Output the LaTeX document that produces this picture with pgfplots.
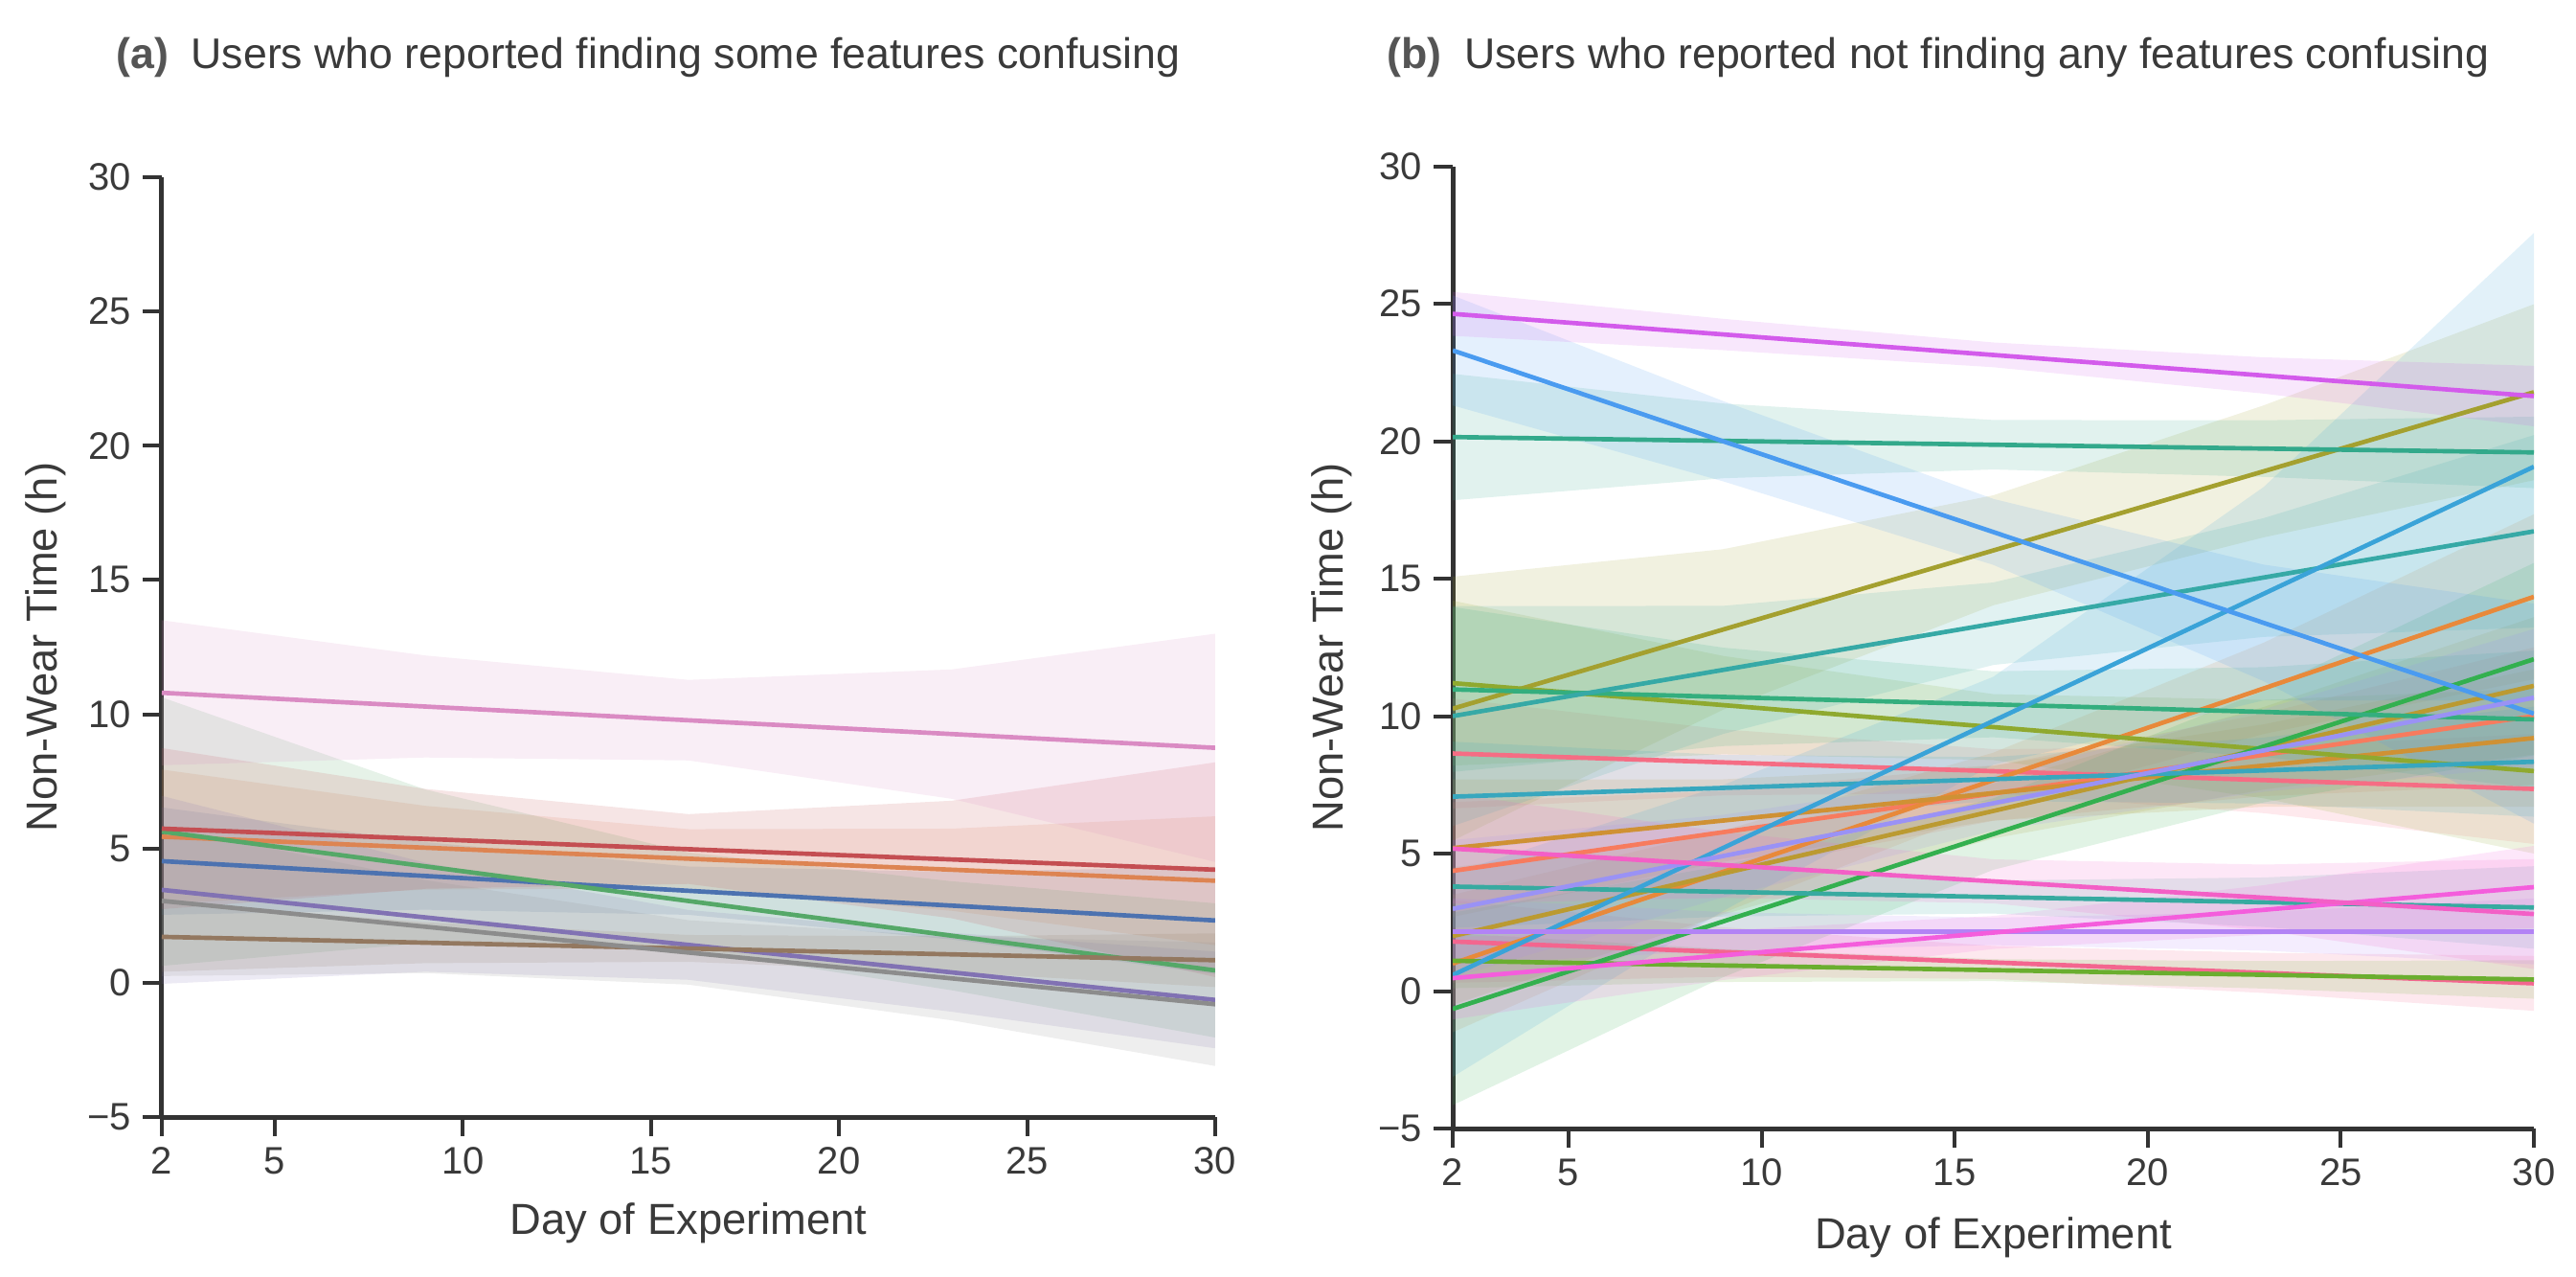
\documentclass[border=0pt]{standalone}
\usepackage{fontspec}
\setmainfont{Liberation Sans}
\usepackage{pgfplots}
\pgfplotsset{compat=1.18}

\definecolor{axisgray}{HTML}{333333}
\definecolor{textgray}{HTML}{3A3A3A}
\definecolor{tagray}{HTML}{555555}
% panel (a): seaborn "deep"
\definecolor{dblue}{HTML}{4C72B0}
\definecolor{dorange}{HTML}{DD8452}
\definecolor{dgreen}{HTML}{55A868}
\definecolor{dred}{HTML}{C44E52}
\definecolor{dpurple}{HTML}{8172B3}
\definecolor{dbrown}{HTML}{937860}
\definecolor{dpink}{HTML}{DA8BC3}
\definecolor{dgray}{HTML}{8C8C8C}
% panel (b): husl-like hues
\definecolor{h01}{HTML}{D35BEB}
\definecolor{h02}{HTML}{4A9BF0}
\definecolor{h03}{HTML}{33A98B}
\definecolor{h04}{HTML}{A4A02F}
\definecolor{h05}{HTML}{3AA3D8}
\definecolor{h06}{HTML}{36A9A6}
\definecolor{h07}{HTML}{E8893A}
\definecolor{h08}{HTML}{33B04F}
\definecolor{h09}{HTML}{8FA92F}
\definecolor{h10}{HTML}{34AE7E}
\definecolor{h11}{HTML}{F56D84}
\definecolor{h12}{HTML}{38A7BE}
\definecolor{h13}{HTML}{CF9134}
\definecolor{h14}{HTML}{F77B5E}
\definecolor{h15}{HTML}{BB9A31}
\definecolor{h16}{HTML}{9A92F5}
\definecolor{h17}{HTML}{F35FC6}
\definecolor{h18}{HTML}{37AAA0}
\definecolor{h19}{HTML}{B283F5}
\definecolor{h20}{HTML}{F45DDC}
\definecolor{h21}{HTML}{F3668F}
\definecolor{h22}{HTML}{6AAE2F}

\pgfplotsset{
  panel/.style={
    scale only axis,
    anchor=south west,
    xmin=2, xmax=30, ymin=-5, ymax=30,
    axis lines*=left,
    axis line style={line width=1.5pt, color=axisgray, -},
    tick align=outside,
    major tick length=6pt,
    tick style={line width=1.2pt, color=axisgray},
    xtick={2,5,10,15,20,25,30},
    xticklabels={2,5,10,15,20,25,30},
    ytick={-5,0,5,10,15,20,25,30},
    yticklabels={−5,0,5,10,15,20,25,30},
    tick label style={font=\fontsize{12}{14}\selectfont, color=textgray},
    xlabel={Day of Experiment},
    ylabel={Non-Wear Time (h)},
  },
  band/.style={draw=none, fill=#1, fill opacity=0.15, forget plot},
  fit/.style={color=#1, line width=1.4pt, forget plot},
}

\begin{document}
\begin{tikzpicture}
\useasboundingbox (0,0) rectangle (807pt,399.6pt);

% ---------------- (a) ----------------
\begin{axis}[panel, at={(50.7pt,49.8pt)}, width=330pt, height=294.3pt,
  ylabel style={at={(axis description cs:-0.110,0.5)}, rotate=0, anchor=center,
    font=\fontsize{13.6}{16}\selectfont, text=textgray},
  xlabel style={at={(axis description cs:0.5,-0.113)}, anchor=center,
    font=\fontsize{13.6}{16}\selectfont, text=textgray}]
% confidence bands (drawn below the lines)
\addplot[band=dblue] coordinates {(2,6.53)(9,5.24)(16,4.33)(23,4.13)(30,4.32)(30,0.32)(23,1.61)(16,2.53)(9,2.72)(2,2.53)};
\addplot[band=dorange] coordinates {(2,7.94)(9,6.59)(16,5.72)(23,5.74)(30,6.2)(30,1.4)(23,2.68)(16,3.52)(9,3.47)(2,2.94)};
\addplot[band=dgreen] coordinates {(2,10.63)(9,7.2)(16,4.85)(23,3.78)(30,2.96)(30,-2.04)(23,-0.28)(16,1.25)(9,1.48)(2,0.63)};
\addplot[band=dred] coordinates {(2,8.74)(9,7.22)(16,6.28)(23,6.78)(30,8.21)(30,0.21)(23,2.4)(16,3.68)(9,3.5)(2,2.74)};
\addplot[band=dpurple] coordinates {(2,6.96)(9,4.47)(16,2.71)(23,1.86)(30,1.16)(30,-2.44)(23,-1.08)(16,0.11)(9,0.41)(2,-0.04)};
\addplot[band=dbrown] coordinates {(2,3.01)(9,2.25)(16,1.78)(23,1.73)(30,1.84)(30,-0.16)(23,0.39)(16,0.78)(9,0.73)(2,0.41)};
\addplot[band=dpink] coordinates {(2,13.5)(9,12.19)(16,11.28)(23,11.67)(30,13.0)(30,4.5)(23,6.85)(16,8.28)(9,8.39)(2,8.1)};
\addplot[band=dgray] coordinates {(2,5.85)(9,3.82)(16,2.33)(23,1.72)(30,1.5)(30,-3.1)(23,-1.4)(16,-0.07)(9,0.36)(2,0.25)};
% regression lines
\addplot[fit=dblue] coordinates {(2,4.53) (30,2.32)};
\addplot[fit=dorange] coordinates {(2,5.44) (30,3.80)};
\addplot[fit=dgreen] coordinates {(2,5.63) (30,0.46)};
\addplot[fit=dred] coordinates {(2,5.74) (30,4.21)};
\addplot[fit=dpurple] coordinates {(2,3.46) (30,-0.64)};
\addplot[fit=dbrown] coordinates {(2,1.71) (30,0.84)};
\addplot[fit=dpink] coordinates {(2,10.8) (30,8.75)};
\addplot[fit=dgray] coordinates {(2,3.05) (30,-0.80)};
\end{axis}

% ---------------- (b) ----------------
\begin{axis}[panel, at={(455.1pt,46.2pt)}, width=338.7pt, height=301.35pt,
  ylabel style={at={(axis description cs:-0.1116,0.5)}, rotate=0, anchor=center,
    font=\fontsize{13.6}{16}\selectfont, text=textgray},
  xlabel style={at={(axis description cs:0.5,-0.113)}, anchor=center,
    font=\fontsize{13.6}{16}\selectfont, text=textgray}]
% confidence bands
\addplot[band=h21] coordinates {(2,3.3)(9,2.32)(16,1.64)(23,1.39)(30,1.28)(30,-0.72)(23,-0.07)(16,0.44)(9,0.52)(2,0.3)};
\addplot[band=h11] coordinates {(2,10.64)(9,9.52)(16,8.8)(23,8.87)(30,9.35)(30,5.35)(23,6.47)(16,7.2)(9,7.12)(2,6.64)};
\addplot[band=h14] coordinates {(2,6.87)(9,7.28)(16,8.19)(23,10.09)(30,12.5)(30,7.5)(23,7.09)(16,6.19)(9,4.28)(2,1.87)};
\addplot[band=h07] coordinates {(2,3.5)(9,5.84)(16,8.67)(23,12.67)(30,17.34)(30,11.34)(23,9.35)(16,6.67)(9,2.84)(2,-1.5)};
\addplot[band=h13] coordinates {(2,7.7)(9,7.7)(16,8.2)(23,9.7)(30,11.7)(30,6.7)(23,6.7)(16,6.2)(9,4.7)(2,2.7)};
\addplot[band=h15] coordinates {(2,4.5)(9,5.78)(16,7.55)(23,10.33)(30,13.6)(30,8.6)(23,7.33)(16,5.55)(9,2.78)(2,-0.5)};
\addplot[band=h04] coordinates {(2,15.07)(9,16.07)(16,18.03)(23,21.3)(30,24.98)(30,18.58)(23,16.5)(16,14.03)(9,10.23)(2,5.47)};
\addplot[band=h09] coordinates {(2,14.2)(9,12.19)(16,10.8)(23,10.59)(30,11.0)(30,5.0)(23,7.01)(16,8.4)(9,8.61)(2,8.2)};
\addplot[band=h22] coordinates {(2,2.1)(9,1.53)(16,1.16)(23,1.09)(30,1.12)(30,-0.28)(23,0.09)(16,0.36)(9,0.33)(2,0.1)};
\addplot[band=h08] coordinates {(2,2.85)(9,4.56)(16,7.01)(23,10.92)(30,15.57)(30,8.57)(23,6.86)(16,4.41)(9,0.5)(2,-4.15)};
\addplot[band=h10] coordinates {(2,13.97)(9,12.49)(16,11.63)(23,11.78)(30,12.38)(30,7.38)(23,8.52)(16,9.23)(9,8.91)(2,7.97)};
\addplot[band=h03] coordinates {(2,22.45)(9,21.37)(16,20.77)(23,20.76)(30,20.89)(30,18.29)(23,18.7)(16,18.97)(9,18.65)(2,17.85)};
\addplot[band=h18] coordinates {(2,5.3)(9,4.51)(16,4.02)(23,4.13)(30,4.54)(30,1.54)(23,2.33)(16,2.82)(9,2.71)(2,2.3)};
\addplot[band=h06] coordinates {(2,14.0)(9,14.01)(16,14.86)(23,17.2)(30,20.22)(30,13.22)(23,12.88)(16,11.86)(9,9.35)(2,6.0)};
\addplot[band=h12] coordinates {(2,9.07)(9,8.59)(16,8.51)(23,9.22)(30,10.34)(30,6.34)(23,6.82)(16,6.91)(9,6.19)(2,5.07)};
\addplot[band=h05] coordinates {(2,4.28)(9,7.49)(16,11.43)(23,18.33)(30,27.57)(30,10.57)(23,10.57)(16,8.23)(9,2.91)(2,-3.12)};
\addplot[band=h02] coordinates {(2,25.3)(9,21.46)(16,17.9)(23,15.51)(30,14.09)(30,6.09)(23,11.27)(16,15.5)(9,18.54)(2,21.3)};
\addplot[band=h16] coordinates {(2,5.49)(9,6.41)(16,7.83)(23,10.25)(30,13.17)(30,8.17)(23,7.25)(16,5.83)(9,3.41)(2,0.49)};
\addplot[band=h19] coordinates {(2,3.37)(9,2.87)(16,2.67)(23,2.87)(30,3.37)(30,0.97)(23,1.47)(16,1.67)(9,1.47)(2,0.97)};
\addplot[band=h01] coordinates {(2,25.43)(9,24.45)(16,23.59)(23,23.05)(30,22.74)(30,20.54)(23,21.73)(16,22.69)(9,23.31)(2,23.83)};
\addplot[band=h20] coordinates {(2,1.97)(9,2.2)(16,2.73)(23,3.85)(30,5.28)(30,2.28)(23,2.05)(16,1.53)(9,0.4)(2,-1.03)};
\addplot[band=h17] coordinates {(2,7.18)(9,5.79)(16,4.79)(23,4.6)(30,4.8)(30,0.8)(23,2.2)(16,3.19)(9,3.39)(2,3.18)};
% regression lines
\addplot[fit=h21] coordinates {(2,1.8) (30,0.28)};
\addplot[fit=h11] coordinates {(2,8.64) (30,7.35)};
\addplot[fit=h14] coordinates {(2,4.37) (30,10.0)};
\addplot[fit=h07] coordinates {(2,1.0) (30,14.34)};
\addplot[fit=h13] coordinates {(2,5.2) (30,9.2)};
\addplot[fit=h15] coordinates {(2,2.0) (30,11.1)};
\addplot[fit=h04] coordinates {(2,10.27) (30,21.78)};
\addplot[fit=h09] coordinates {(2,11.2) (30,8.0)};
\addplot[fit=h22] coordinates {(2,1.1) (30,0.42)};
\addplot[fit=h08] coordinates {(2,-0.65) (30,12.07)};
\addplot[fit=h10] coordinates {(2,10.97) (30,9.88)};
\addplot[fit=h03] coordinates {(2,20.15) (30,19.59)};
\addplot[fit=h18] coordinates {(2,3.8) (30,3.04)};
\addplot[fit=h06] coordinates {(2,10.0) (30,16.72)};
\addplot[fit=h12] coordinates {(2,7.07) (30,8.34)};
\addplot[fit=h05] coordinates {(2,0.58) (30,19.07)};
\addplot[fit=h02] coordinates {(2,23.3) (30,10.09)};
\addplot[fit=h16] coordinates {(2,2.99) (30,10.67)};
\addplot[fit=h19] coordinates {(2,2.17) (30,2.17)};
\addplot[fit=h01] coordinates {(2,24.63) (30,21.64)};
\addplot[fit=h20] coordinates {(2,0.47) (30,3.78)};
\addplot[fit=h17] coordinates {(2,5.18) (30,2.8)};
\end{axis}

% panel titles
\node[anchor=base west, font=\fontsize{13.4}{16}\selectfont, text=textgray, inner sep=0pt]
  at (36.3pt,378pt) {\textcolor{tagray}{\textbf{(a)}}\hspace{7pt}Users who reported finding some features confusing};
\node[anchor=base west, font=\fontsize{13.4}{16}\selectfont, text=textgray, inner sep=0pt]
  at (434.4pt,378pt) {\textcolor{tagray}{\textbf{(b)}}\hspace{7pt}Users who reported not finding any features confusing};
\end{tikzpicture}
\end{document}
